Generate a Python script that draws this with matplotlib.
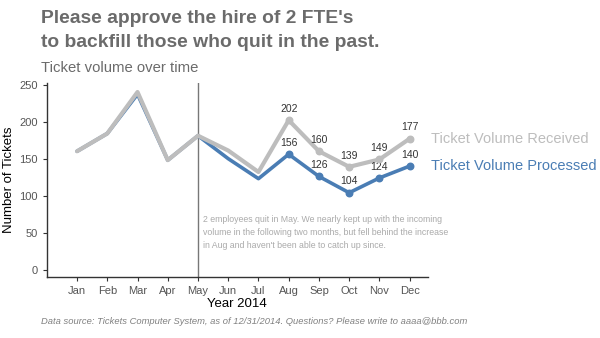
import matplotlib.pyplot as plt
import numpy as np

months = ['Jan', 'Feb', 'Mar', 'Apr', 'May', 'Jun', 'Jul', 'Aug', 'Sep', 'Oct', 'Nov', 'Dec']
received = [160, 184, 240, 148, 181, 161, 132, 202, 160, 139, 149, 177]
processed = [160, 184, 237, 148, 181, 150, 123, 156, 126, 104, 124, 140]
labelled_from = 7  # Aug onwards gets points and value labels

GRAY = '#bdbdbd'
BLUE = '#4a7db4'

plt.rcParams['font.family'] = ['Liberation Sans', 'DejaVu Sans']

fig = plt.figure(figsize=(6, 3.38), dpi=100)
ax = fig.add_axes([0.078, 0.180, 0.635, 0.574])

x = np.arange(1, len(months) + 1)
ax.plot(x, processed, color=BLUE, lw=2.6, solid_capstyle='round', zorder=2)
ax.plot(x, received, color=GRAY, lw=3.0, solid_capstyle='round', zorder=3)
ax.scatter(x[labelled_from:], processed[labelled_from:], s=22, color=BLUE, zorder=4)
ax.scatter(x[labelled_from:], received[labelled_from:], s=22, color=GRAY, zorder=4)

for xi, r, p in zip(x[labelled_from:], received[labelled_from:], processed[labelled_from:]):
    ax.annotate(str(r), (xi, r), xytext=(0, 4.5), textcoords='offset points',
                ha='center', va='bottom', fontsize=7.5, color='#333333')
    ax.annotate(str(p), (xi, p), xytext=(0, 4.5), textcoords='offset points',
                ha='center', va='bottom', fontsize=7.5, color='#333333')

# staff leaving
ax.axvline(5, color='#777777', lw=1.0, zorder=1)
ax.text(5.15, 50, '2 employees quit in May. We nearly kept up with the incoming\n'
        'volume in the following two months, but fell behind the increase\n'
        'in Aug and haven\'t been able to catch up since.',
        fontsize=6.35, color='#aaaaaa', ha='left', va='center', linespacing=1.55)

ax.text(12.7, received[-1], 'Ticket Volume Received', fontsize=10.5, color=GRAY,
        ha='left', va='center', clip_on=False)
ax.text(12.7, processed[-1], 'Ticket Volume Processed', fontsize=10.5, color=BLUE,
        ha='left', va='center', clip_on=False)

ax.set_xlim(0, 12.6)
ax.set_ylim(-10, 252)
ax.set_xticks(x)
ax.set_xticklabels(months)
ax.set_yticks([0, 50, 100, 150, 200, 250])
ax.tick_params(labelsize=8, colors='#555555', length=3, width=0.8)
ax.tick_params(axis='both', color='#333333')
for side in ['top', 'right']:
    ax.spines[side].set_visible(False)
for side in ['left', 'bottom']:
    ax.spines[side].set_color('#333333')
    ax.spines[side].set_linewidth(1.0)
ax.set_xlabel('Year 2014', fontsize=9.5, labelpad=1)
ax.set_ylabel('Number of Tickets', fontsize=9.5, labelpad=3)

fig.text(0.069, 0.970, "Please approve the hire of 2 FTE's\nto backfill those who quit in the past.",
         fontsize=13.9, fontweight='bold', color='#6b6b6b', ha='left', va='top', linespacing=1.5)
fig.text(0.069, 0.80, 'Ticket volume over time', fontsize=10.7, color='#6b6b6b', ha='left', va='center')
fig.text(0.069, 0.05, 'Data source: Tickets Computer System, as of 12/31/2014. Questions? Please write to aaaa@bbb.com',
         fontsize=6.75, style='italic', color='#808080', ha='left', va='center')

fig.savefig('out.png', dpi=100)
